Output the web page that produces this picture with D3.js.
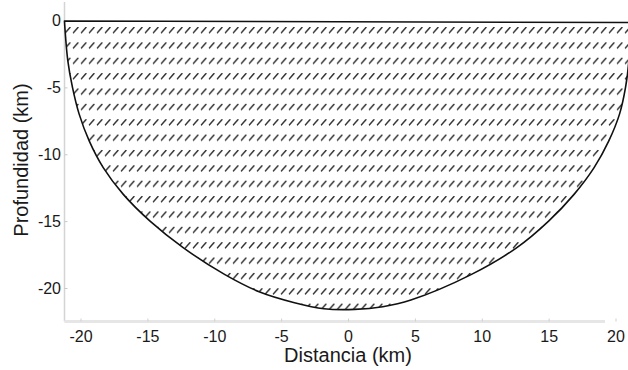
<!DOCTYPE html>
<html>
<head>
<meta charset="utf-8">
<script src="https://cdn.jsdelivr.net/npm/d3@7/dist/d3.min.js"></script>
<style>
  html, body { margin: 0; padding: 0; background: #fff; }
  svg { display: block; }
  text { font-family: "Liberation Sans", Arial, sans-serif; fill: #1a1a1a; }
</style>
</head>
<body>
<svg id="chart" width="628" height="370"></svg>
<script>
// ---- data ----
const xTicks = [-20, -15, -10, -5, 0, 5, 10, 15, 20];
const yTicks = [0, -5, -10, -15, -20];
const xLabel = "Distancia (km)";
const yLabel = "Profundidad (km)";

// lower boundary of the body (distance km, depth km), left top -> bottom -> right top
const boundaryX = [-21.2, -20.95, -20.6, -20.1, -19.35, -18.3, -16.8, -14.8, -12.3, -9.2, -6.6, -4.0, -1.8, 0.5, 2.6, 4.7, 9.2, 12.6, 15.0, 16.9, 18.4, 19.5, 20.3, 20.75, 21.0, 21.1];
const boundaryDepth = [-0.04, -3.0, -5.0, -7.0, -9.0, -11.0, -13.0, -15.0, -17.0, -19.0, -20.3, -21.1, -21.55, -21.6, -21.4, -20.9, -19.0, -17.0, -15.0, -13.0, -11.0, -9.0, -7.0, -5.0, -3.0, -0.15];

// ---- scales ----
const x = d3.scaleLinear().domain([-20, 20]).range([80.5, 615.5]);
const y = d3.scaleLinear().domain([0, -20]).range([20.5, 288]);

const svg = d3.select("#chart");

// hatch pattern (rows of short diagonal dashes)
const defs = svg.append("defs");
const pat = defs.append("pattern")
  .attr("id", "hatch")
  .attr("patternUnits", "userSpaceOnUse")
  .attr("x", 0).attr("y", 27)
  .attr("width", 8).attr("height", 15.37);
pat.append("line")
  .attr("x1", 1.5).attr("y1", 5.6)
  .attr("x2", 6).attr("y2", 0.4)
  .attr("stroke", "#333")
  .attr("stroke-width", 1.45)
  .attr("stroke-linecap", "round");

// ---- axes ----
const xAxisY = 321.5;
const yAxisX = 64.5;
const fmt = d => String(d);

svg.append("line")
  .attr("x1", yAxisX).attr("x2", yAxisX)
  .attr("y1", 2).attr("y2", xAxisY)
  .attr("stroke", "#d4d4d4").attr("stroke-width", 1.5);
svg.append("line")
  .attr("x1", yAxisX).attr("x2", 605)
  .attr("y1", xAxisY).attr("y2", xAxisY)
  .attr("stroke", "#e6e6e6").attr("stroke-width", 3);

const yAxis = svg.append("g")
  .attr("transform", `translate(${yAxisX},0)`)
  .call(d3.axisLeft(y).tickValues(yTicks).tickSize(-3).tickPadding(3.5).tickFormat(fmt));
yAxis.select(".domain").remove();
yAxis.selectAll(".tick line").attr("stroke", "#c8c8c8");
yAxis.selectAll("text").attr("font-size", 16).attr("fill", "#1a1a1a")
  .attr("font-family", "Liberation Sans, Arial, sans-serif");

const xAxis = svg.append("g")
  .attr("transform", `translate(0,${xAxisY})`)
  .call(d3.axisBottom(x).tickValues(xTicks).tickSize(-3).tickPadding(9).tickFormat(fmt));
xAxis.select(".domain").remove();
xAxis.selectAll(".tick line").attr("stroke", "#d0d0d0");
xAxis.selectAll("text").attr("font-size", 16).attr("fill", "#1a1a1a")
  .attr("font-family", "Liberation Sans, Arial, sans-serif");

// ---- body ----
const pts = boundaryX.map((d, i) => [d, boundaryDepth[i]]);
const line = d3.line()
  .x(d => x(d[0]))
  .y(d => y(d[1]))
  .curve(d3.curveCatmullRom.alpha(0.5));

const pathD = line(pts) + "Z";
svg.append("path")
  .attr("d", pathD)
  .attr("fill", "url(#hatch)")
  .attr("stroke", "#111")
  .attr("stroke-width", 1.6)
  .attr("stroke-linejoin", "round");

// ---- titles ----
svg.append("text")
  .attr("x", 348).attr("y", 362)
  .attr("text-anchor", "middle")
  .attr("font-size", 20)
  .text(xLabel);

svg.append("text")
  .attr("transform", "translate(27.5,160) rotate(-90)")
  .attr("text-anchor", "middle")
  .attr("font-size", 20)
  .text(yLabel);
</script>
</body>
</html>
